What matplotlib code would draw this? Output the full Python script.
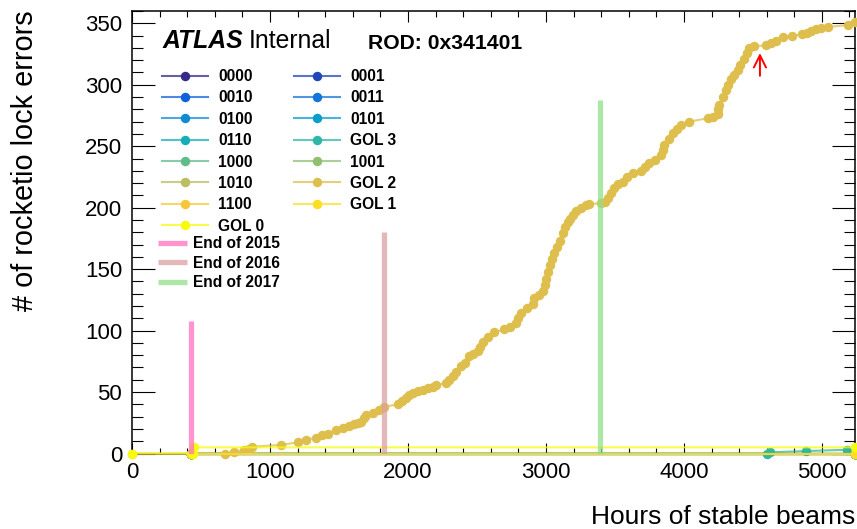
import numpy as np
import matplotlib
matplotlib.use("Agg")
import matplotlib.pyplot as plt
from matplotlib.lines import Line2D
from matplotlib.ticker import MultipleLocator

plt.rcParams['font.family'] = ['Liberation Sans', 'DejaVu Sans']

# ---------------- data ----------------
series_names = ["0000", "0001", "0010", "0011", "0100", "0101", "0110", "GOL 3",
                "1000", "1001", "1010", "GOL 2", "1100", "GOL 1", "GOL 0"]

# GOL 2: cumulative errors vs hours of stable beams
gol2_hours = [0, 430, 675, 740, 810, 850, 870, 1080, 1200, 1260, 1333, 1380, 1420, 1478,
              1530, 1572, 1610, 1640, 1659, 1680, 1696, 1750, 1790, 1826, 1928, 1960, 1986,
              2010, 2034, 2070, 2110, 2142, 2180, 2203, 2275, 2300, 2324, 2350, 2384, 2410,
              2444, 2475, 2505, 2520, 2541, 2580, 2626, 2698, 2740, 2783, 2800, 2819, 2860,
              2903, 2915, 2950, 2976, 2990, 3000, 3012, 3030, 3045, 3060, 3080, 3100, 3121,
              3140, 3160, 3175, 3193, 3220, 3254, 3290, 3314, 3399, 3430, 3447, 3470, 3495,
              3525, 3556, 3590, 3628, 3688, 3720, 3749, 3790, 3833, 3845, 3857, 3890, 3918,
              3950, 3978, 4039, 4171, 4210, 4244, 4250, 4256, 4280, 4304, 4320, 4341, 4365,
              4389, 4410, 4437, 4455, 4473, 4509, 4594, 4630, 4670, 4715, 4787, 4859, 4890,
              4920, 4960, 4993, 5041, 5186, 5240]
gol2_counts = [0, 0, 0, 1, 3, 4, 5.5, 7, 9, 11, 13, 15, 16, 19,
               20.5, 22, 24, 25, 26, 29, 31, 33, 35, 38, 40, 43, 45.5,
               47.5, 49.5, 50.6, 52, 53, 54.5, 55.5, 57.4, 60, 62.8, 66, 71, 74,
               79, 81, 83, 87, 91, 95, 98.5, 101, 103, 106, 110, 114, 118,
               122, 126.5, 129, 132, 137, 142, 148, 153, 158, 163, 168, 173, 179,
               184, 188, 191, 194, 197, 200, 202, 203, 203.5, 205, 207.7, 212, 216,
               219, 221, 225, 228, 230, 233, 236, 239, 243, 247, 251, 256, 260.5,
               264, 267, 270, 272.7, 274, 276, 280, 283.5, 290, 295.7, 300, 305, 308,
               312, 316, 321, 326, 329.6, 331.4, 332, 334, 336, 338.5, 340, 341, 342.5,
               343.6, 345, 346, 347, 348.5, 351]

gol0_hours = [0, 440, 450, 5240]
gol0_counts = [0, 0, 5, 5]

gol3_hours = [430, 4600, 4625, 4885, 5180, 5240]
gol3_counts = [0, 0, 1, 2, 3, 3]

zero_hours = [430, 5240]
zero_counts = [0, 0]

end_labels = ["End of 2015", "End of 2016", "End of 2017"]
end_hours = [431, 1830, 3391]
end_heights = [108, 180, 288]
end_colors = ["#ff70c0", "#dca0a0", "#90e088"]

arrow_hours = 4551
arrow_from = 305
arrow_to = 328

# ---------------- palette (ROOT kBird) ----------------
stops = np.array([0.0, 0.125, 0.25, 0.375, 0.5, 0.625, 0.75, 0.875, 1.0])
red = [0.2082, 0.0592, 0.0780, 0.0232, 0.1802, 0.5301, 0.8186, 0.9956, 0.9764]
green = [0.1664, 0.3599, 0.5041, 0.6419, 0.7178, 0.7492, 0.7328, 0.7862, 0.9832]
blue = [0.5293, 0.8684, 0.8385, 0.7914, 0.6425, 0.4662, 0.3499, 0.1968, 0.0539]
def bird(t):
    return (np.interp(t, stops, red), np.interp(t, stops, green), np.interp(t, stops, blue))
colors = [bird(i / 14.0) for i in range(15)]

W, H = 857, 529
fig = plt.figure(figsize=(W / 100, H / 100), dpi=100)
ax = fig.add_axes([132 / W, 1 - 453.5 / H, (855 - 132) / W, (453.5 - 11) / H])

data = {}
for name in series_names:
    data[name] = (zero_hours, zero_counts)
data["GOL 2"] = (gol2_hours, gol2_counts)
data["GOL 0"] = (gol0_hours, gol0_counts)
data["GOL 3"] = (gol3_hours, gol3_counts)

handles = {}
for name, c in zip(series_names, colors):
    xs, ys = data[name]
    h, = ax.plot(xs, ys, color=(*c, 0.75), lw=1.5, marker='o', ms=5.8,
                 mfc=c, mec=c, zorder=3, label=name, clip_on=False)
    handles[name] = h

# end-of-year markers
end_handles = []
for lab, xh, hh, col in zip(end_labels, end_hours, end_heights, end_colors):
    ax.plot([xh, xh], [0, hh], color=col, lw=3.8, alpha=0.75, solid_capstyle='butt', zorder=4)
    end_handles.append(Line2D([], [], color=col, lw=3.8, alpha=0.75, solid_capstyle='butt', label=lab))

ax.annotate('', xy=(arrow_hours, arrow_to), xytext=(arrow_hours, arrow_from),
            arrowprops=dict(arrowstyle='->', color='red', lw=1.4, mutation_scale=22), zorder=6)

ax.set_xlim(0, 5240)
ax.set_ylim(0, 360)
ax.xaxis.set_major_locator(MultipleLocator(1000))
ax.xaxis.set_minor_locator(MultipleLocator(200))
ax.yaxis.set_major_locator(MultipleLocator(50))
ax.yaxis.set_minor_locator(MultipleLocator(10))
ax.tick_params(axis='both', which='both', direction='in', top=True, right=True, width=0.8)
ax.tick_params(axis='x', which='major', length=8, labelsize=16, pad=6)
ax.tick_params(axis='x', which='minor', length=4)
ax.tick_params(axis='y', which='major', length=16.5, labelsize=16, pad=7)
ax.tick_params(axis='y', which='minor', length=8)
for sp in ax.spines.values():
    sp.set_linewidth(1.1)
    sp.set_zorder(2)

fig.text(25 / W, 1 - 10 / H, "# of rocketio lock errors", rotation=90, ha='center', va='top', fontsize=20.8)
fig.text(855 / W, 1 - 517 / H, "Hours of stable beams", ha='right', va='center', fontsize=19)

fig.text(163 / W, 1 - 48 / H, "ATLAS", fontsize=17.8, fontweight='bold', fontstyle='italic', va='baseline')
fig.text(249 / W, 1 - 48 / H, "Internal", fontsize=17.8, va='baseline')
fig.text(368 / W, 1 - 49 / H, "ROD: 0x341401", fontsize=15.2, fontweight='bold', va='baseline')

col1 = ["0000", "0010", "0100", "0110", "1000", "1010", "1100", "GOL 0"]
col2 = ["0001", "0011", "0101", "GOL 3", "1001", "GOL 2", "GOL 1"]
order = col1 + col2
leg = fig.legend([handles[n] for n in order], order, loc='upper left',
                 bbox_to_anchor=(162 / W, 1 - 69 / H), ncol=2, frameon=False,
                 prop={'weight': 'bold', 'size': 11.2}, handlelength=2.97, handletextpad=0.65,
                 columnspacing=1.9, labelspacing=0.41, borderpad=0, borderaxespad=0)
leg2 = fig.legend(handles=end_handles, loc='upper left', bbox_to_anchor=(158 / W, 1 - 236 / H),
                  frameon=False, prop={'weight': 'bold', 'size': 11.2}, handlelength=1.87,
                  handletextpad=0.4, labelspacing=0.29, borderpad=0, borderaxespad=0)

fig.savefig("out.png", dpi=100)
